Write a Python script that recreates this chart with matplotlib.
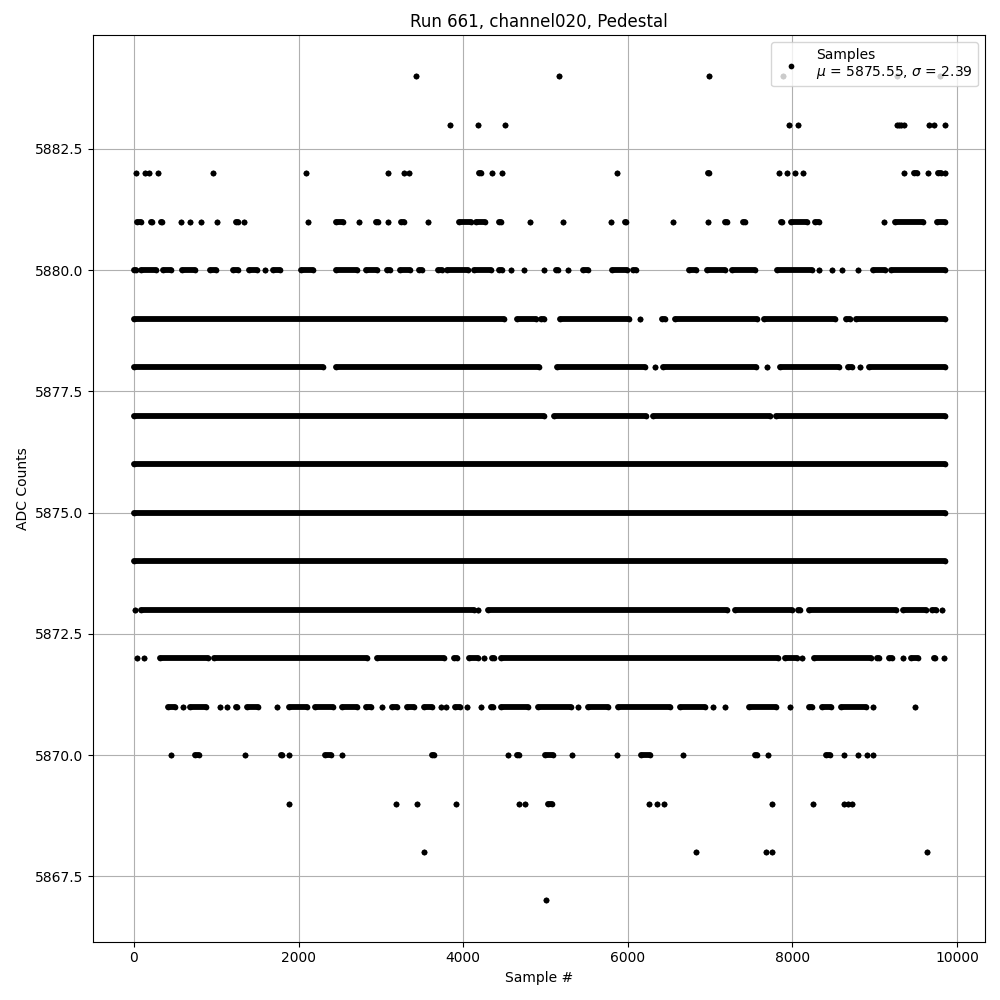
import matplotlib
matplotlib.use("Agg")
import matplotlib.pyplot as plt

# ---------------- Datos ----------------
# Cada nivel ADC: lista de tramos (inicio, fin) en número de muestra.
# Un punto aislado es un tramo con inicio == fin.
runs_5884 = [(3423, 3423), (5159, 5159), (6988, 6988), (7890, 7890),
             (9265, 9265), (9793, 9793)]
runs_5883 = [(3842, 3842), (4183, 4183), (4512, 4512), (7963, 7963), (8073, 8073),
             (9265, 9265), (9290, 9290), (9320, 9320), (9355, 9355),
             (9655, 9655), (9724, 9724), (9850, 9850)]
runs_5882 = [(24, 24), (134, 134), (183, 183), (293, 293), (963, 963), (2085, 2085),
             (3085, 3085), (3285, 3285), (3341, 3341), (4188, 4216), (4354, 4354),
             (4476, 4476), (5866, 5866), (6980, 6988), (7841, 7841), (7939, 7939),
             (8029, 8029), (8134, 8134), (9358, 9358), (9480, 9508), (9643, 9643),
             (9773, 9805), (9850, 9850)]
runs_5881 = [(40, 90), (205, 225), (330, 340), (573, 573), (683, 683), (817, 817),
             (1012, 1012), (1240, 1260), (1341, 1341), (2110, 2110), (2450, 2540),
             (2732, 2732), (2940, 2960), (3085, 3085), (3245, 3285), (3573, 3573),
             (3950, 4095), (4160, 4265), (4440, 4455), (4817, 4817), (5219, 5219),
             (5801, 5801), (5970, 5980), (6545, 6545), (6971, 6971), (7185, 7205),
             (7400, 7425), (7860, 7870), (7985, 8180), (8280, 8320), (9110, 9110),
             (9245, 9590), (9755, 9850)]
runs_5880 = [(0, 30), (90, 270), (355, 455), (580, 740), (925, 1000), (1210, 1270),
             (1395, 1490), (1594, 1594), (1685, 1775), (2030, 2180), (2450, 2710),
             (2815, 2955), (3080, 3115), (3230, 3350), (3465, 3495), (3690, 3745),
             (3810, 4065), (4135, 4335), (4440, 4470), (4582, 4582), (4744, 4744),
             (4988, 4988), (5130, 5150), (5273, 5273), (5455, 5515), (5805, 5985),
             (6065, 6105), (6740, 6835), (6960, 7185), (7265, 7545), (7815, 8240),
             (8322, 8322), (8484, 8484), (8606, 8606), (8801, 8801), (8975, 9130),
             (9200, 9850)]
runs_5879 = [(0, 4500), (4655, 4885), (4950, 4985), (5175, 6020), (6146, 6146),
             (6410, 6450), (6575, 7565), (7650, 8520), (8650, 8695), (8770, 9850)]
runs_5878 = [(0, 2295), (2460, 4925), (5145, 6205), (6329, 6329), (6425, 7560),
             (7691, 7691), (7855, 8565), (8680, 8730), (8822, 8822), (8930, 9850)]
runs_5877 = [(0, 4985), (5105, 6225), (6310, 7730), (7805, 9850)]
runs_5876 = [(0, 9850)]
runs_5875 = [(0, 9850)]
runs_5874 = [(0, 9850)]
runs_5873 = [(9, 9), (90, 4135), (4183, 4183), (4300, 7200), (7305, 8000),
             (8070, 8095), (8200, 9255), (9340, 9620), (9700, 9745), (9817, 9817)]
runs_5872 = [(37, 37), (127, 127), (315, 900), (975, 2830), (2955, 3765),
             (3890, 3930), (4075, 4175), (4256, 4256), (4350, 4380), (4460, 7830),
             (7915, 8055), (8118, 8118), (8260, 8950), (9030, 9050), (9175, 9215),
             (9338, 9338), (9440, 9530), (9715, 9735), (9838, 9838)]
runs_5871 = [(415, 495), (598, 598), (680, 880), (1045, 1045), (1127, 1127),
             (1240, 1255), (1370, 1510), (1744, 1744), (1880, 2100), (2205, 2425),
             (2530, 2710), (2815, 2875), (3017, 3017), (3140, 3200), (3320, 3400),
             (3525, 3625), (3728, 3728), (3795, 3795), (3905, 3960), (4053, 4053),
             (4216, 4216), (4335, 4360), (4460, 4785), (4905, 5310), (5395, 5395),
             (5520, 5760), (5885, 6510), (6635, 6935), (7041, 7041), (7183, 7183),
             (7470, 7800), (7975, 7975), (8200, 8240), (8355, 8470), (8590, 8890),
             (8976, 8976), (9488, 9488)]
runs_5870 = [(451, 451), (740, 795), (1354, 1354), (1790, 1795), (1890, 1890),
             (2320, 2400), (2524, 2524), (3620, 3645), (4541, 4541), (4655, 4675),
             (4990, 5090), (5317, 5317), (5866, 5866), (6165, 6270), (6671, 6671),
             (7545, 7570), (7703, 7703), (8405, 8460), (8622, 8622), (8793, 8793),
             (8903, 8903), (8976, 8976)]
runs_5869 = [(1890, 1890), (3183, 3183), (3439, 3439), (3915, 3915), (4683, 4683),
             (4756, 4756), (5025, 5080), (6256, 6256), (6353, 6353), (6444, 6444),
             (7756, 7756), (8256, 8256), (8627, 8627), (8680, 8680), (8728, 8728)]
runs_5868 = [(3524, 3524), (6829, 6829), (7683, 7683), (7756, 7756), (9634, 9634)]
runs_5867 = [(5012, 5012)]

levels = [5884, 5883, 5882, 5881, 5880, 5879, 5878, 5877, 5876, 5875, 5874,
          5873, 5872, 5871, 5870, 5869, 5868, 5867]
all_runs = [runs_5884, runs_5883, runs_5882, runs_5881, runs_5880, runs_5879,
            runs_5878, runs_5877, runs_5876, runs_5875, runs_5874, runs_5873,
            runs_5872, runs_5871, runs_5870, runs_5869, runs_5868, runs_5867]

MU = 5875.55
SIGMA = 2.39

# ---------------- Gráfica ----------------
fig, ax = plt.subplots(figsize=(10, 10), dpi=100)
fig.subplots_adjust(left=0.0933, right=0.985, top=0.965, bottom=0.0583)

pts_x, pts_y = [], []
seg_y, seg_x0, seg_x1 = [], [], []
for level, runs in zip(levels, all_runs):
    for x0, x1 in runs:
        pts_x += [x0, x1]
        pts_y += [level, level]
        if x1 > x0:
            seg_y.append(level)
            seg_x0.append(x0)
            seg_x1.append(x1)

lc = ax.hlines(seg_y, seg_x0, seg_x1, colors='k', linewidth=4.2, zorder=2)
lc.set_capstyle('round')
ax.scatter(pts_x, pts_y, s=17, c='k', marker='o', linewidths=0, zorder=2,
           label=f'Samples\n$\\mu$ = {MU:.2f}, $\\sigma$ = {SIGMA:.2f}')

ax.set_xlim(-493, 10340)
ax.set_ylim(5866.15, 5884.85)
ax.set_title('Run 661, channel020, Pedestal')
ax.set_xlabel('Sample #')
ax.set_ylabel('ADC Counts')
ax.grid(True)
ax.legend(loc='upper right')

plt.savefig('out.png', dpi=100)
plt.close()
